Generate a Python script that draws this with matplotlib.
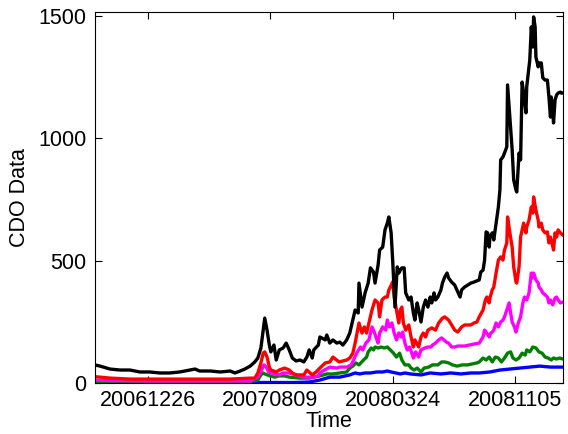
import matplotlib
matplotlib.use("Agg")
import matplotlib.pyplot as plt

plt.rcParams['font.family'] = ['Liberation Sans', 'DejaVu Sans']

# x axis: trading-day index
tick_days = [69, 229, 389, 549]
tick_labels = ['20061226', '20070809', '20080324', '20081105']
x_max = 611

black_days = [0, 7, 20, 33, 46, 59, 72, 85, 98, 111, 124, 131, 137, 151, 164, 177, 183, 190, 196, 203,
              209, 213, 217, 220, 222, 225, 228, 230, 234, 237, 241, 246, 250, 254, 258, 263, 268, 273,
              277, 280, 284, 286, 292, 294, 301, 303, 307, 311, 316, 320, 324, 329, 333, 337, 340, 344,
              345, 349, 353, 357, 360, 364, 366, 370, 372, 376, 379, 382, 384, 387, 389, 392, 395, 397,
              399, 401, 404, 406, 410, 413, 416, 418, 421, 423, 426, 429, 432, 435, 438, 440, 443, 445,
              448, 452, 454, 457, 460, 462, 466, 470, 474, 477, 479, 483, 487, 491, 495, 499, 502, 504,
              507, 509, 511, 513, 515, 516, 519, 521, 524, 527, 529, 530, 533, 535, 538, 539, 542, 545,
              547, 550, 551, 554, 556, 558, 560, 563, 564, 567, 568, 570, 572, 573, 575, 576, 579, 580,
              583, 585, 588, 591, 593, 595, 596, 598, 599, 601, 603, 605, 608, 609, 611]
black_vals = [74, 69, 57, 53, 53, 45, 45, 41, 41, 45, 53, 57, 49, 49, 45, 49, 41, 49, 57, 69,
              86, 102, 143, 216, 265, 216, 155, 127, 155, 94, 135, 143, 163, 135, 102, 90, 94, 86,
              106, 135, 102, 135, 155, 188, 176, 196, 163, 176, 163, 167, 155, 176, 204, 257, 298, 286,
              408, 310, 368, 408, 470, 453, 408, 482, 543, 555, 625, 653, 678, 613, 502, 310, 474, 449,
              461, 470, 470, 368, 339, 351, 286, 257, 327, 298, 249, 310, 339, 310, 351, 327, 368, 339,
              351, 380, 408, 433, 449, 429, 412, 400, 372, 351, 380, 392, 400, 408, 412, 417, 421, 453,
              461, 502, 617, 613, 555, 596, 613, 584, 653, 719, 788, 911, 923, 939, 964, 1217, 1086, 952,
              829, 788, 780, 939, 911, 1229, 1184, 1103, 1209, 1291, 1319, 1454, 1372, 1495, 1454, 1331, 1291, 1307,
              1307, 1246, 1237, 1237, 1168, 1086, 1168, 1115, 1062, 1156, 1176, 1184, 1188, 1184, 1184]

red_days = [0, 7, 20, 46, 72, 98, 124, 151, 177, 203, 209, 213, 217, 220, 222, 225, 228, 230, 237, 241,
            248, 254, 258, 263, 273, 277, 284, 289, 294, 301, 307, 311, 319, 329, 333, 337, 340, 345,
            349, 352, 355, 358, 362, 366, 370, 372, 375, 379, 382, 384, 386, 389, 391, 394, 397, 399,
            401, 403, 406, 410, 413, 416, 418, 423, 426, 429, 432, 435, 440, 445, 449, 454, 457, 462,
            466, 470, 474, 479, 483, 487, 491, 495, 499, 502, 507, 510, 512, 515, 516, 519, 521, 524,
            527, 530, 533, 535, 538, 539, 542, 545, 547, 550, 551, 554, 556, 560, 563, 564, 567, 570,
            572, 573, 576, 579, 580, 583, 585, 588, 591, 593, 595, 599, 601, 603, 605, 608, 611]
red_vals = [26, 24, 20, 16, 16, 16, 16, 16, 16, 20, 20, 41, 82, 122, 127, 106, 65, 53, 45, 53,
            61, 53, 41, 33, 33, 53, 33, 45, 61, 82, 86, 106, 86, 94, 102, 122, 163, 245,
            204, 229, 204, 245, 298, 339, 327, 270, 339, 351, 351, 380, 392, 413, 351, 298, 245, 298,
            310, 245, 216, 237, 188, 147, 176, 147, 188, 204, 188, 216, 225, 216, 245, 265, 270, 257,
            237, 216, 208, 229, 237, 237, 237, 245, 249, 270, 298, 339, 351, 327, 347, 380, 392, 449,
            502, 515, 502, 543, 572, 678, 613, 555, 474, 412, 408, 474, 596, 653, 613, 637, 665, 719,
            694, 760, 706, 665, 637, 653, 625, 613, 617, 572, 596, 543, 613, 596, 625, 613, 605]

magenta_days = [0, 20, 72, 124, 177, 203, 213, 219, 221, 224, 227, 234, 241, 246, 254, 262, 273, 286,
                292, 294, 300, 307, 316, 320, 329, 335, 338, 342, 347, 350, 354, 358, 362, 365, 367,
                370, 372, 376, 380, 382, 385, 388, 391, 394, 397, 400, 402, 405, 408, 411, 414, 416,
                419, 423, 426, 431, 435, 439, 441, 445, 449, 453, 459, 462, 466, 470, 474, 483, 489,
                495, 502, 507, 509, 511, 515, 517, 519, 521, 524, 527, 530, 533, 535, 538, 541, 543,
                545, 548, 550, 553, 556, 559, 561, 564, 567, 570, 572, 573, 576, 579, 580, 583, 585,
                588, 591, 593, 595, 598, 601, 603, 605, 608, 611]
magenta_vals = [12, 10, 8, 8, 8, 8, 24, 61, 74, 65, 45, 37, 33, 41, 41, 33, 24, 24,
                29, 41, 53, 65, 61, 65, 65, 74, 94, 122, 147, 135, 163, 176, 229, 208, 188,
                163, 204, 229, 216, 257, 229, 245, 204, 176, 204, 188, 208, 163, 135, 147, 122, 102,
                127, 106, 135, 143, 147, 147, 155, 163, 176, 184, 167, 163, 147, 147, 151, 151, 155,
                159, 163, 188, 216, 208, 188, 204, 208, 216, 245, 229, 249, 257, 270, 298, 327, 286,
                249, 229, 208, 245, 270, 327, 351, 339, 368, 449, 429, 449, 421, 408, 392, 380, 368,
                360, 351, 327, 339, 319, 347, 351, 339, 327, 330]

green_days = [0, 100, 200, 213, 217, 220, 222, 229, 235, 241, 248, 254, 268, 280, 294, 303, 311, 320,
              329, 333, 337, 341, 345, 351, 355, 357, 361, 364, 366, 370, 374, 378, 382, 386, 390,
              394, 398, 401, 405, 410, 413, 417, 421, 426, 430, 436, 441, 448, 453, 457, 462, 467,
              473, 480, 487, 493, 499, 502, 507, 511, 515, 519, 523, 527, 531, 535, 539, 543, 546,
              550, 554, 558, 562, 564, 568, 572, 576, 580, 584, 588, 592, 596, 599, 603, 607, 611]
green_vals = [4, 4, 4, 12, 33, 41, 37, 29, 24, 29, 29, 24, 20, 20, 29, 37, 37, 41,
              45, 61, 69, 82, 74, 94, 106, 127, 143, 135, 147, 143, 147, 143, 147, 135, 122,
              106, 122, 94, 74, 74, 61, 53, 61, 45, 61, 65, 74, 74, 86, 86, 82, 74,
              69, 74, 74, 78, 82, 86, 102, 94, 106, 86, 106, 102, 86, 102, 122, 127, 102,
              94, 102, 122, 114, 135, 127, 147, 143, 127, 122, 106, 102, 94, 102, 98, 102, 98]

blue_days = [0, 200, 260, 280, 294, 307, 320, 333, 340, 346, 353, 360, 368, 376, 382, 387, 393, 399,
             405, 412, 426, 438, 452, 465, 478, 491, 502, 516, 529, 542, 555, 568, 581, 595, 611]
blue_vals = [2, 2, 2, 4, 12, 24, 24, 33, 41, 37, 41, 41, 45, 45, 49, 45, 41, 37,
             41, 37, 33, 41, 37, 41, 37, 41, 41, 45, 53, 57, 61, 65, 69, 65, 65]

fig = plt.figure(figsize=(5.68, 4.34), dpi=100)
ax = fig.add_axes([0.1667, 0.1175, 0.824, 0.856])

lw = 2.4
ax.plot(blue_days, blue_vals, color='#0000ff', lw=lw)
ax.plot(green_days, green_vals, color='#008000', lw=lw)
ax.plot(magenta_days, magenta_vals, color='#ff00ff', lw=lw)
ax.plot(red_days, red_vals, color='#ff0000', lw=lw)
ax.plot(black_days, black_vals, color='#000000', lw=lw)

ax.set_xlim(0, x_max)
ax.set_ylim(0, 1517)
ax.set_xticks(tick_days)
ax.set_xticklabels(tick_labels)
ax.set_yticks([0, 500, 1000, 1500])
ax.tick_params(direction='in', length=5, width=0.8, top=True, right=True,
               labelsize=15.5)
ax.tick_params(axis='x', pad=5)
ax.tick_params(axis='y', pad=6)
for s in ax.spines.values():
    s.set_linewidth(0.8)
ax.set_xlabel('Time', fontsize=15.5, labelpad=0)
ax.set_ylabel('CDO Data', fontsize=15.5, labelpad=6)

fig.savefig('out.png', dpi=100)
